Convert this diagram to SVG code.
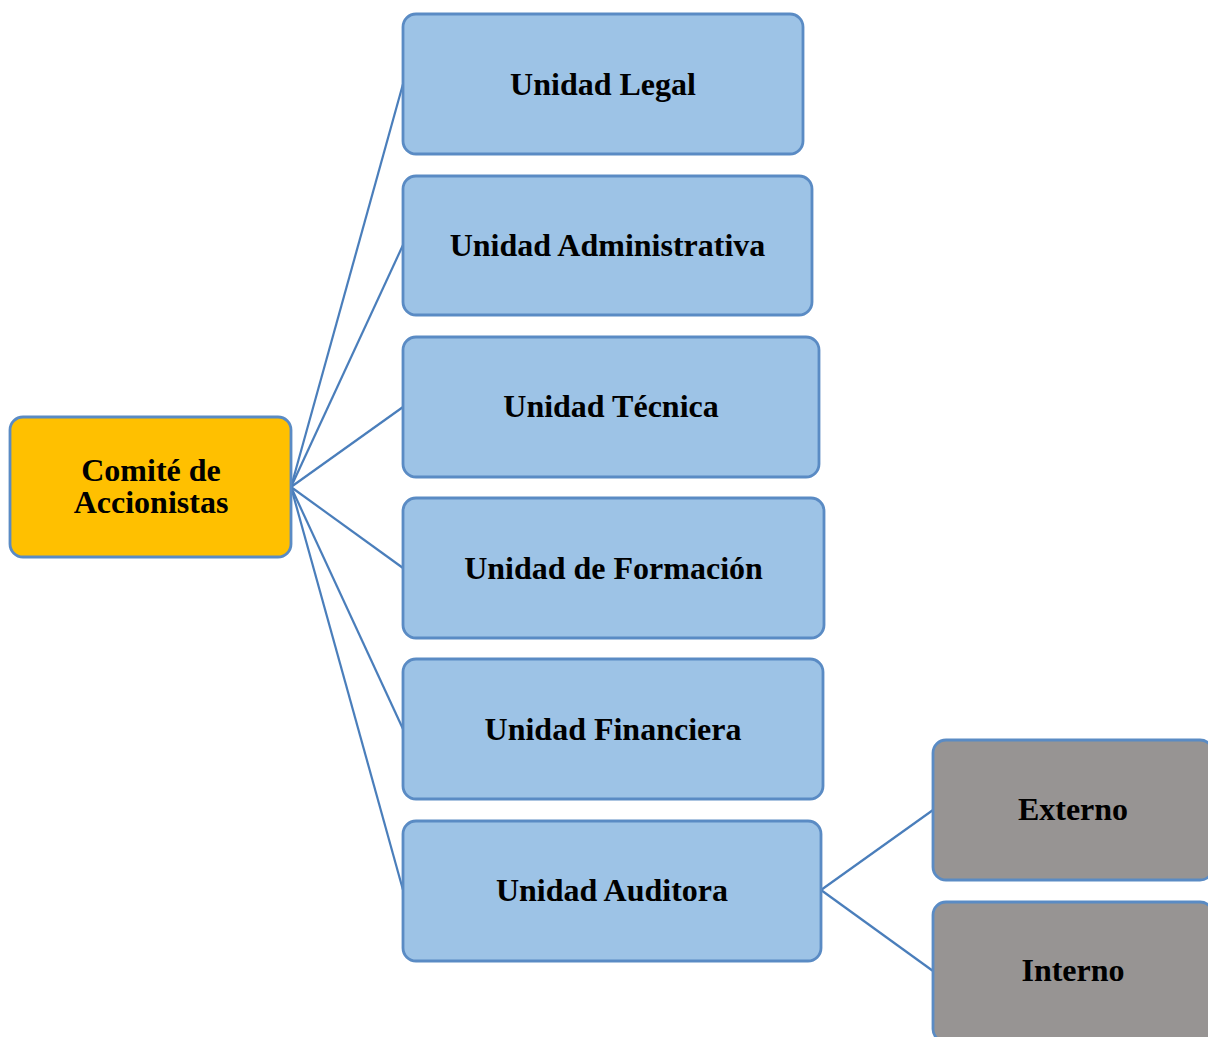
<svg xmlns="http://www.w3.org/2000/svg" width="1208" height="1037" viewBox="0 0 1208 1037">
<style>
.box{stroke:#5a8bc4;stroke-width:2.8}
.blue{fill:#9dc3e6}
.gold{fill:#ffc000}
.gray{fill:#979493}
.t{font-family:"Liberation Serif","Times New Roman",serif;font-weight:bold;font-size:32px;fill:#000;text-anchor:middle}
.c line{stroke:#4a7ebb;stroke-width:2.2}
</style>
<rect width="1208" height="1037" fill="#fff"/>
<g class="c" id="connectors">
<line x1="291" y1="487" x2="403" y2="84"/>
<line x1="291" y1="487" x2="403" y2="245"/>
<line x1="291" y1="487" x2="403" y2="407"/>
<line x1="291" y1="487" x2="403" y2="568"/>
<line x1="291" y1="487" x2="403" y2="729"/>
<line x1="291" y1="487" x2="403" y2="890"/>
<line x1="821" y1="890" x2="933" y2="810"/>
<line x1="821" y1="890" x2="933" y2="971"/>
</g>
<g id="root"><rect class="box gold" x="10" y="417" width="281" height="140" rx="13"/>
<text class="t" x="151" y="481">Comité de</text><text class="t" x="151" y="513">Accionistas</text></g>
<g id="legal"><rect class="box blue" x="403" y="14" width="400" height="140" rx="13"/><text class="t" x="603" y="94.5">Unidad Legal</text></g>
<g id="admin"><rect class="box blue" x="403" y="176" width="409" height="139" rx="13"/><text class="t" x="607.5" y="255.5">Unidad Administrativa</text></g>
<g id="tecnica"><rect class="box blue" x="403" y="337" width="416" height="140" rx="13"/><text class="t" x="611" y="417">Unidad Técnica</text></g>
<g id="formacion"><rect class="box blue" x="403" y="498" width="421" height="140" rx="13"/><text class="t" x="613.5" y="578.5">Unidad de Formación</text></g>
<g id="financiera"><rect class="box blue" x="403" y="659" width="420" height="140" rx="13"/><text class="t" x="613" y="739.5">Unidad Financiera</text></g>
<g id="auditora"><rect class="box blue" x="403" y="821" width="418" height="140" rx="13"/><text class="t" x="612" y="901">Unidad Auditora</text></g>
<g id="externo"><rect class="box gray" x="933" y="740" width="280" height="140" rx="13"/><text class="t" x="1073" y="820">Externo</text></g>
<g id="interno"><rect class="box gray" x="933" y="902" width="280" height="140" rx="13"/><text class="t" x="1073" y="981">Interno</text></g>
</svg>
